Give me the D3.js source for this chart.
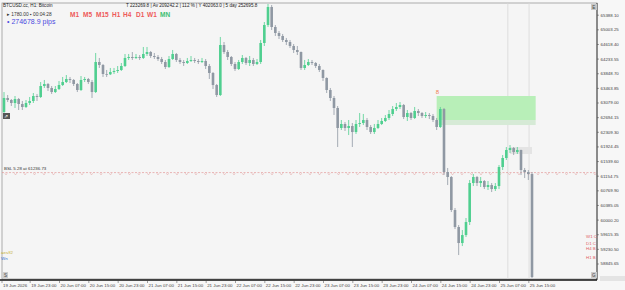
<!DOCTYPE html>
<html><head><meta charset="utf-8">
<script src="https://cdn.jsdelivr.net/npm/d3@7/dist/d3.min.js"></script>
<style>html,body{margin:0;padding:0;background:#f7f7f7;}svg{display:block;}</style>
</head><body>
<svg id="c" width="625" height="290"></svg>
<script>
const times = ["19 Jun 2026","19 Jun 23:00","20 Jun 07:00","20 Jun 15:00","20 Jun 23:00","21 Jun 07:00","21 Jun 15:00","21 Jun 23:00","22 Jun 07:00","22 Jun 15:00","22 Jun 23:00","23 Jun 07:00","23 Jun 15:00","23 Jun 23:00","24 Jun 07:00","24 Jun 15:00","24 Jun 23:00","25 Jun 07:00","25 Jun 15:00"];
const timeIdx = [0,7,15,23,31,39,47,55,63,71,79,87,95,103,111,119,127,135,143];
const priceTicks = [65388.10,65003.25,64618.40,64233.55,63848.70,63463.85,63079.00,62694.15,62309.30,61924.45,61539.60,61154.75,60769.90,60385.05,60000.20,59615.35,59230.50,58845.65];
const open = [62829,63198,63145,63066,63171,63040,62961,63066,63119,63250,63224,63513,63566,63461,63355,63434,63539,63618,63697,63671,63566,63408,63671,63697,63618,63355,64144,64065,63829,63820,63881,63908,63934,64039,64250,64276,64250,64276,64250,64355,64407,64302,64276,64223,64144,64013,64223,64355,64197,64144,64118,64171,64197,64171,64144,64171,64039,63855,63539,63276,64591,64407,64276,64092,63960,64144,64250,64118,64197,64092,64144,64644,65117,65591,65065,64907,64828,64723,64670,64565,64460,64407,63987,64065,64144,64118,64039,63934,63724,63408,63198,62935,62409,62514,62409,62461,62303,62514,62540,62619,62435,62303,62409,62514,62593,62672,62777,62908,62961,63013,62698,62803,62672,62856,62803,62724,62750,62724,62619,62435,62908,61251,61120,60252,59805,59384,59594,59936,60962,61120,60962,61015,60857,60909,60804,60883,61383,61620,61830,61882,61777,61830,61304,61251,61199];
const high = [63355,63276,63171,63250,63198,63119,63145,63224,63329,63303,63618,63671,63592,63513,63513,63645,63750,63802,63750,63697,63592,63776,63750,63724,63671,64381,64250,64092,63934,63987,63987,64039,64118,64355,64355,64407,64355,64328,64539,64539,64434,64381,64328,64276,64197,64302,64460,64381,64250,64197,64250,64302,64250,64223,64250,64223,64092,63881,63566,64802,64670,64460,64302,64144,64197,64328,64276,64302,64250,64223,64723,65196,65670,65643,65117,64960,64881,64776,64723,64618,64565,64420,64197,64223,64197,64144,64092,63950,63740,63461,63250,62987,62619,62566,62619,62540,62619,62803,62777,62672,62487,62514,62619,62672,62750,62882,62987,63066,63092,63040,62882,62829,62961,62908,62829,62829,62803,62777,62672,62961,62935,61357,61146,60305,59858,59726,60042,61041,61199,61146,61120,61041,61015,60962,60962,61435,61698,61909,61961,61909,61909,61840,61357,61304,61251];
const low = [62803,63092,62987,62935,62882,62882,62935,63013,63066,63119,63198,63461,63382,63303,63329,63408,63513,63592,63592,63513,63355,63382,63618,63566,63198,63329,63987,63750,63750,63802,63829,63855,63908,64013,64197,64197,64223,64197,64223,64302,64250,64223,64171,64092,63960,63987,64197,64144,64092,64039,64092,64144,64118,64092,64118,63960,63697,63434,63224,63250,64355,64197,64039,63908,63934,64092,64065,64039,64039,64065,64092,64565,65065,64986,64828,64749,64670,64591,64513,64381,64328,63934,63934,64039,64065,63987,63881,63645,63329,63119,62751,61909,62356,62330,62224,61909,62251,62435,62487,62356,62251,62251,62382,62487,62566,62619,62724,62856,62908,62645,62593,62619,62645,62724,62672,62672,62645,62566,62356,62409,61172,60909,60199,59752,59068,59305,59542,59858,60883,60883,60857,60804,60778,60725,60752,60804,61304,61567,61751,61698,61725,61172,61093,61041,58464];
const close = [63198,63145,63066,63171,63040,62961,63066,63119,63250,63224,63513,63566,63461,63355,63434,63539,63618,63697,63671,63566,63408,63671,63697,63618,63355,64144,64065,63829,63820,63881,63908,63934,64039,64250,64276,64250,64276,64250,64355,64407,64302,64276,64223,64144,64013,64223,64355,64197,64144,64118,64171,64197,64171,64144,64171,64039,63855,63539,63276,64591,64407,64276,64092,63960,64144,64250,64118,64197,64092,64144,64644,65117,65591,65065,64907,64828,64723,64670,64565,64460,64407,63987,64065,64144,64118,64039,63934,63724,63408,63198,62935,62409,62514,62409,62461,62303,62514,62540,62619,62435,62303,62409,62514,62593,62672,62777,62908,62961,63013,62698,62803,62672,62856,62803,62724,62750,62724,62619,62435,62908,61251,61120,60252,59805,59384,59594,59936,60962,61120,60962,61015,60857,60909,60804,60883,61383,61620,61830,61882,61777,61830,61304,61251,61199,58490];
const levelPrice = 61236.73;
const zoneTop = 63250, zoneBottom = 62487, zoneMid = 62619;
const zoneStart = 118, zoneEnd = 145;
const boxTop = 61909, boxBottom = 61725, boxStart = 138, boxEnd = 144;
const tfButtons = ["M1","M5","M15","H1","H4","D1","W1","MN"];

const svg = d3.select("#c");
const L = 2, R = 597, T = 3, B = 279;
const x = d3.scaleLinear().domain([0,144]).range([4,532]);
const y = d3.scaleLinear().domain([58845.65,65388.10]).range([263.5,14.7]);
const font = "Liberation Sans, Arial, sans-serif";

svg.append("rect").attr("x",0).attr("y",0).attr("width",625).attr("height",290).attr("fill","#f7f7f7");
svg.append("rect").attr("x",L).attr("y",T).attr("width",R-L).attr("height",B-T).attr("fill","#f5f5f5").attr("stroke","#9a9a9a").attr("stroke-width",0.8);

svg.append("defs").append("clipPath").attr("id","clip").append("rect").attr("x",L).attr("y",T).attr("width",R-L).attr("height",B-T);
const g = svg.append("g").attr("clip-path","url(#clip)");

// vertical lines
[x(137.4), x(143.2)].forEach(v=>{
  g.append("line").attr("x1",v).attr("x2",v).attr("y1",T).attr("y2",B).attr("stroke","#d8d8d8").attr("stroke-width",0.8);
});

// zone rectangles
g.append("rect").attr("x",x(zoneStart)).attr("y",y(zoneTop)).attr("width",x(zoneEnd)-x(zoneStart))
  .attr("height",y(zoneMid)-y(zoneTop)).attr("fill","#b8efb8");
g.append("rect").attr("x",x(zoneStart)).attr("y",y(zoneMid)).attr("width",x(zoneEnd)-x(zoneStart))
  .attr("height",y(zoneBottom)-y(zoneMid)).attr("fill","#d6ead6");
g.append("rect").attr("x",x(boxStart)).attr("y",y(boxTop)).attr("width",x(boxEnd)-x(boxStart))
  .attr("height",y(boxBottom)-y(boxTop)).attr("fill","#e4e4e4");
svg.append("text").attr("x",x(zoneStart)-1).attr("y",y(zoneTop)-2).attr("font-family",font).attr("font-size",6)
  .attr("fill","#f08050").text("8");

// level line
const ly = y(levelPrice);
g.append("line").attr("x1",L).attr("x2",R).attr("y1",ly).attr("y2",ly).attr("stroke","#e08a8a").attr("stroke-width",0.6).attr("stroke-dasharray","2,1.5");
const marks = d3.range(L+4, R, 9.5);
g.selectAll(".mk").data(marks).join("path").attr("d",d=>`M${d-1.2},${ly+0.6}L${d},${ly+2.4}L${d+1.2},${ly+0.6}`)
  .attr("fill","none").attr("stroke","#e0a0a0").attr("stroke-width",0.5);
svg.append("text").attr("x",4).attr("y",ly-2.5).attr("font-family",font).attr("font-size",4.4).attr("fill","#333").text("BSL 5.28 at 61236.73");

// candles
const n = close.length;
const data = d3.range(n).map(i=>({i,o:open[i],h:high[i],l:low[i],c:close[i]}));
const up = "#4fcf8f", dn = "#8f98a3";
const bw = 2.6;
g.selectAll(".wick").data(data).join("line")
  .attr("x1",d=>x(d.i)).attr("x2",d=>x(d.i)).attr("y1",d=>y(d.h)).attr("y2",d=>y(d.l))
  .attr("stroke",d=>d.c>=d.o?up:dn).attr("stroke-width",0.8);
g.selectAll(".body").data(data).join("rect")
  .attr("x",d=>x(d.i)-bw/2).attr("width",bw)
  .attr("y",d=>y(Math.max(d.o,d.c))).attr("height",d=>Math.max(0.8,Math.abs(y(d.o)-y(d.c))))
  .attr("fill",d=>d.c>=d.o?up:dn);

// right axis
const yAxis = d3.axisRight(y).tickValues(priceTicks).tickSize(2).tickFormat(d3.format(".2f"));
const ya = svg.append("g").attr("transform",`translate(${R},0)`).call(yAxis);
ya.select(".domain").attr("d",`M0,${T}V${B+1}`).attr("stroke","#222").attr("stroke-width",0.8);
ya.selectAll("line").attr("stroke","#444").attr("stroke-width",0.5);
ya.selectAll("text").attr("font-family",font).attr("font-size",4.4).attr("fill","#444").attr("x",3.5);

// bottom axis
const xAxis = d3.axisBottom(x).tickValues(timeIdx).tickSize(3).tickFormat((d,k)=>times[k]);
const xa = svg.append("g").attr("transform",`translate(0,${B+1})`).call(xAxis);
xa.select(".domain").attr("d",`M0,0H${R}`).attr("stroke","#111").attr("stroke-width",1.6);
xa.selectAll(".tick line").attr("stroke","#444").attr("stroke-width",0.5);
xa.selectAll("text").attr("font-family",font).attr("font-size",4.4).attr("fill","#444").attr("text-anchor","start").attr("dx",1).attr("y",4);
xa.selectAll(".tick").filter((d,k)=>k===0).attr("transform","translate(2,0)");

// header texts
svg.append("text").attr("x",3).attr("y",7).attr("font-family",font).attr("font-size",4.6).attr("fill","#222").text("BTCUSD.cc, H1:  Bitcoin");
svg.append("text").attr("x",126).attr("y",7).attr("font-family",font).attr("font-size",4.6).attr("fill","#222")
  .text("T 223269.8  |  Av 209242.2  |  112 %  |  Y 402063.0  |  5 day 252695.8");
svg.append("text").attr("x",7).attr("y",15.5).attr("font-family",font).attr("font-size",4.8).attr("fill","#333").text("▸ 1780.00 ▪  00:04:28");
svg.append("text").attr("x",7).attr("y",23.5).attr("font-family",font).attr("font-size",7).attr("fill","#4a4ae0").text("• 274678.9 pips");
const tfx = [70,83,96,112,123,136,147,160];
svg.selectAll(".tf").data(tfButtons).join("text").attr("x",(d,k)=>tfx[k]).attr("y",16.5)
  .attr("font-family",font).attr("font-size",6.5).attr("font-weight","bold")
  .attr("fill",d=>d==="MN"?"#3cbf70":"#ee5a5a").text(d=>d);

// small buttons
svg.append("rect").attr("x",591).attr("y",4).attr("width",6).attr("height",6).attr("fill","#c8c8c8");
svg.append("text").attr("x",592.3).attr("y",9).attr("font-family",font).attr("font-size",4.5).attr("fill","#444").text("E");
svg.append("rect").attr("x",3).attr("y",113).attr("width",7).attr("height",6).attr("fill","#555");
svg.append("text").attr("x",4.2).attr("y",118).attr("font-family",font).attr("font-size",4.5).attr("fill","#fff").text("⇗");
svg.append("rect").attr("x",3).attr("y",272).attr("width",5).attr("height",6).attr("fill","#ccc");
svg.append("text").attr("x",4).attr("y",277).attr("font-family",font).attr("font-size",4.5).attr("fill","#444").text("S");
svg.append("rect").attr("x",591).attr("y",272).attr("width",6).attr("height",6).attr("fill","#ccc");
svg.append("text").attr("x",592).attr("y",277).attr("font-family",font).attr("font-size",4.5).attr("fill","#444").text("G");
svg.append("rect").attr("x",600).attr("y",276).attr("width",25).attr("height",5).attr("fill","#e4e4e4");

// side labels
const sideLbl = [["W1 C",238],["D1 C",244.5],["H4 B",250],["H1 B",259]];
svg.selectAll(".sl").data(sideLbl).join("text").attr("x",586).attr("y",d=>d[1]).attr("font-family",font)
  .attr("font-size",4.4).attr("fill","#e06060").text(d=>d[0]);
svg.append("text").attr("x",1).attr("y",254).attr("font-family",font).attr("font-size",4.4).attr("fill","#c8b030").text("aes/f2");
svg.append("text").attr("x",1).attr("y",259.5).attr("font-family",font).attr("font-size",4.4).attr("fill","#3070d0").text("Wn");
</script>
</body></html>
